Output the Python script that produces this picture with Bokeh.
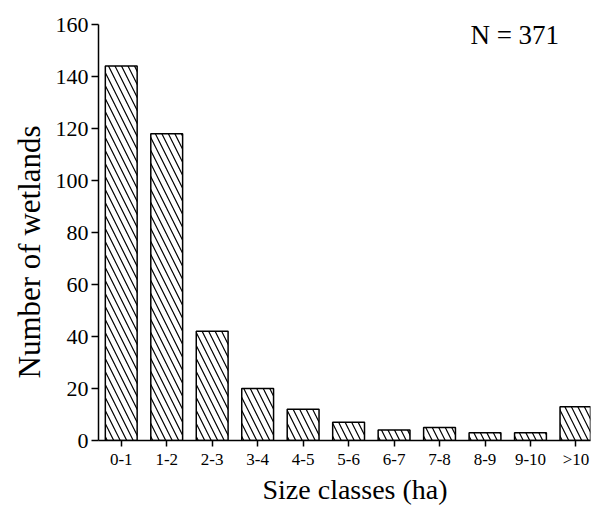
from bokeh.plotting import figure
from bokeh.models import Range1d, FixedTicker, Label, Title
from bokeh.embed import file_html
from bokeh.resources import INLINE

categories = ["0-1", "1-2", "2-3", "3-4", "4-5", "5-6", "6-7", "7-8", "8-9", "9-10", ">10"]
counts = [144, 118, 42, 20, 12, 7, 4, 5, 3, 3, 13]
y_ticks = [0, 20, 40, 60, 80, 100, 120, 140, 160]

FONT = "Liberation Serif"
xs = list(range(len(categories)))

p = figure(frame_width=492, frame_height=416, output_backend="svg", toolbar_location=None,
           x_range=Range1d(-0.5, 10.32), y_range=Range1d(0, 160),
           min_border_left=98, min_border_right=4, min_border_top=24, min_border_bottom=68)
p.outline_line_color = None
p.grid.visible = False
p.background_fill_color = "white"

p.vbar(x=xs, top=counts, width=0.7, bottom=0, fill_color="white", line_color="black",
       line_width=1.5, hatch_pattern="\\", hatch_color="black", hatch_scale=13, hatch_weight=1.2)

p.xaxis.ticker = FixedTicker(ticks=xs)
p.xaxis.major_label_overrides = {i: c for i, c in zip(xs, categories)}
p.yaxis.ticker = FixedTicker(ticks=y_ticks)

for ax in (p.xaxis, p.yaxis):
    ax.axis_line_color = "black"
    ax.axis_line_width = 1.5
    ax.major_tick_line_color = "black"
    ax.major_tick_line_width = 1.5
    ax.major_tick_in = 0
    ax.minor_tick_line_color = None
    ax.major_label_text_font = FONT
    ax.major_label_text_color = "black"

p.xaxis.major_tick_out = 6
p.yaxis.major_tick_out = 7
p.xaxis.major_label_text_font_size = "17px"
p.yaxis.major_label_text_font_size = "22px"
p.yaxis.major_label_standoff = 3
p.xaxis.major_label_standoff = 3

# axis titles as side titles so they can be shifted along the axis
p.add_layout(Title(text="Size classes (ha)", align="left", offset=164, text_font=FONT,
                   text_font_size="28px", text_font_style="normal", text_color="black",
                   standoff=0), "below")
p.add_layout(Title(text="Number of wetlands", align="left", offset=62, text_font=FONT,
                   text_font_size="31px", text_font_style="normal", text_color="black",
                   standoff=11), "left")

p.add_layout(Label(x=9.63, y=156, text="N = 371", text_font=FONT, text_font_size="27px",
                   text_align="right", text_baseline="middle", text_color="black"))

open("out.html", "w").write(file_html(p, INLINE))
